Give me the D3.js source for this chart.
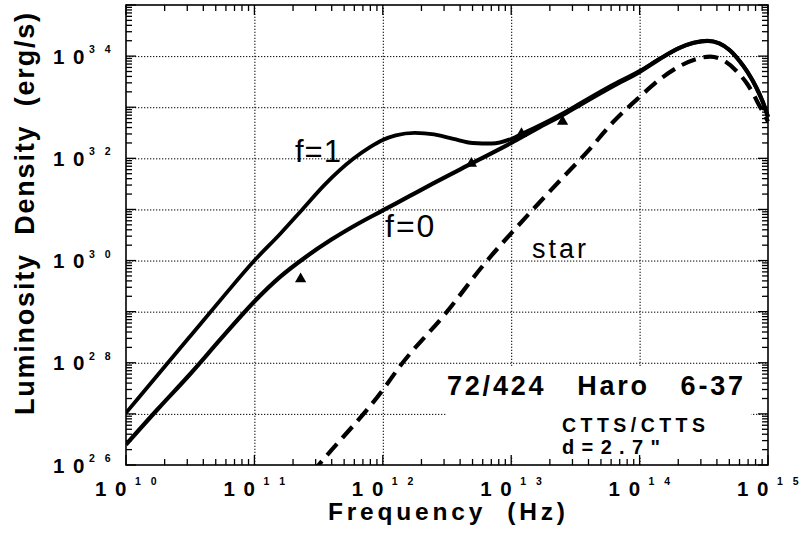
<!DOCTYPE html>
<html>
<head>
<meta charset="utf-8">
<script src="https://cdn.jsdelivr.net/npm/d3@7"></script>
<style>
  html, body { margin: 0; padding: 0; background: #fff; }
  svg { display: block; }
  text { font-family: "Liberation Sans", Arial, Helvetica, sans-serif; fill: #000; }
</style>
</head>
<body>
<svg id="chart" width="804" height="538"></svg>
<script>
// ---- data (log10 values) ----
const xTickExps = [10, 11, 12, 13, 14, 15];
const yTickExps = [26, 28, 30, 32, 34];
const gridXExps = [11, 12, 13, 14];
const gridYExps = [27, 28, 29, 30, 31, 32, 33, 34];

const f1LogNu = [10.0, 10.25, 10.5, 10.75, 11.0, 11.2, 11.37, 11.55, 11.77, 11.9, 12.0, 12.1, 12.25, 12.4, 12.55, 12.7, 12.85, 13.0, 13.1, 13.2, 13.43, 13.54, 13.8, 14.0, 14.16, 14.31, 14.42, 14.53, 14.62, 14.70, 14.78, 14.84, 14.91, 14.96, 15.0];
const f1LogL  = [27.02, 27.77, 28.52, 29.27, 30.0, 30.52, 30.99, 31.49, 31.99, 32.22, 32.36, 32.45, 32.5, 32.47, 32.38, 32.3, 32.29, 32.38, 32.5, 32.62, 32.92, 33.08, 33.45, 33.71, 33.95, 34.16, 34.26, 34.3, 34.25, 34.12, 33.9, 33.69, 33.38, 33.1, 32.81];

const f0LogNu = [10.0, 10.25, 10.5, 10.75, 11.0, 11.2, 11.4, 11.6, 11.8, 12.0, 12.2, 12.4, 12.7, 13.0, 13.2, 13.43, 13.54, 13.8, 14.0, 14.16, 14.31, 14.42, 14.53, 14.62, 14.70, 14.78, 14.84, 14.91, 14.96, 15.0];
const f0LogL  = [26.4, 27.1, 27.78, 28.5, 29.2, 29.68, 30.07, 30.41, 30.71, 30.98, 31.25, 31.52, 31.91, 32.3, 32.58, 32.89, 33.05, 33.42, 33.69, 33.95, 34.16, 34.26, 34.3, 34.25, 34.12, 33.9, 33.69, 33.38, 33.1, 32.81];

const starLogNu = [11.45, 11.5, 12.0, 12.13, 12.5, 12.78, 13.17, 13.4, 13.59, 13.79, 14.0, 14.16, 14.31, 14.45, 14.55, 14.65, 14.75, 14.84, 14.94, 15.0];
const starLogL  = [25.85, 26.0, 27.47, 27.92, 29.0, 29.9, 31.0, 31.62, 32.12, 32.7, 33.2, 33.55, 33.8, 33.95, 33.99, 33.92, 33.72, 33.45, 33.0, 32.72];

const triLogNu = [11.36, 12.69, 13.08, 13.40];
const triLogL  = [29.64, 31.9, 32.48, 32.72];

const curveLabels = ["f=1", "f=0", "star"];
const xTitle = "Frequency  (Hz)";
const yTitle = "Luminosity  Density  (erg/s)";
const noteTitle = "72/424   Haro   6-37";
const noteLines = ["CTTS/CTTS", "d=2.7\""];

// ---- layout ----
const L = 126, R = 768, T = 5, B = 465;
const svg = d3.select("#chart");
const x = d3.scaleLog().domain([1e10, 1e15]).range([L, R]);
const y = d3.scaleLog().domain([1e26, 1e35]).range([B, T]);
const p10 = e => Math.pow(10, e);

// grid (dotted)
const gridStyle = g => g.selectAll("line").attr("stroke", "#000").attr("stroke-width", 1).attr("stroke-dasharray", "1.3,1.7");
svg.append("g").attr("transform", `translate(0,${B})`)
  .call(d3.axisBottom(x).tickValues(gridXExps.map(p10)).tickSize(-(B - T)).tickFormat(""))
  .call(g => g.select(".domain").remove()).call(gridStyle);
svg.append("g").attr("transform", `translate(${L},0)`)
  .call(d3.axisLeft(y).tickValues(gridYExps.map(p10)).tickSize(-(R - L)).tickFormat(""))
  .call(g => g.select(".domain").remove()).call(gridStyle);

// clip
svg.append("defs").append("clipPath").attr("id", "clip")
  .append("rect").attr("x", L).attr("y", T - 2).attr("width", R - L + 2).attr("height", B - T + 2);

const line = d3.line().x(d => x(p10(d[0]))).y(d => y(p10(d[1]))).curve(d3.curveMonotoneX);
const plot = svg.append("g").attr("clip-path", "url(#clip)");

plot.append("path").datum(d3.zip(starLogNu, starLogL)).attr("d", line)
  .attr("fill", "none").attr("stroke", "#000").attr("stroke-width", 4.2)
  .attr("stroke-dasharray", "15,8").attr("stroke-linecap", "butt");
plot.append("path").datum(d3.zip(f0LogNu, f0LogL)).attr("d", line)
  .attr("fill", "none").attr("stroke", "#000").attr("stroke-width", 4.2).attr("stroke-linejoin", "round");
plot.append("path").datum(d3.zip(f1LogNu, f1LogL)).attr("d", line)
  .attr("fill", "none").attr("stroke", "#000").attr("stroke-width", 3.8).attr("stroke-linejoin", "round");

plot.selectAll(".tri").data(d3.zip(triLogNu, triLogL)).join("path")
  .attr("transform", d => `translate(${x(p10(d[0]))},${y(p10(d[1]))})`)
  .attr("d", d3.symbol(d3.symbolTriangle, 55)).attr("fill", "#000");

// white box behind annotation
svg.append("rect").attr("x", 446).attr("y", 367).attr("width", 305).attr("height", B - 367 - 8).attr("fill", "#fff");

// minor/major ticks on all sides (drawn inward)
const xMinor = [], yMinor = [];
for (let e = 10; e < 15; e++) for (let k = 2; k <= 9; k++) xMinor.push(k * p10(e));
for (let e = 26; e < 35; e++) for (let k = 2; k <= 9; k++) yMinor.push(k * p10(e));
const xMajor = xTickExps.map(p10), yMajor = d3.range(26, 36).map(p10);
const tg = svg.append("g");
[[xMinor, 6], [xMajor, 10]].forEach(([vals, len]) => {
  tg.append("g").selectAll("line").data(vals).join("line")
    .attr("stroke", "#000").attr("stroke-width", 1.3)
    .attr("x1", d => x(d)).attr("x2", d => x(d)).attr("y1", B).attr("y2", B - len);
  tg.append("g").selectAll("line").data(vals).join("line")
    .attr("stroke", "#000").attr("stroke-width", 1.3)
    .attr("x1", d => x(d)).attr("x2", d => x(d)).attr("y1", T).attr("y2", T + len);
});
[[yMinor, 6], [yMajor, 10]].forEach(([vals, len]) => {
  tg.append("g").selectAll("line").data(vals).join("line")
    .attr("stroke", "#000").attr("stroke-width", 1.3)
    .attr("y1", d => y(d)).attr("y2", d => y(d)).attr("x1", L).attr("x2", L + len);
  tg.append("g").selectAll("line").data(vals).join("line")
    .attr("stroke", "#000").attr("stroke-width", 1.3)
    .attr("y1", d => y(d)).attr("y2", d => y(d)).attr("x1", R).attr("x2", R - len);
});

// frame
svg.append("rect").attr("x", L).attr("y", T).attr("width", R - L).attr("height", B - T)
  .attr("fill", "none").attr("stroke", "#000").attr("stroke-width", 1.6);

// tick labels
const xl = svg.append("g");
xTickExps.forEach(e => {
  const px = x(p10(e));
  xl.append("text").attr("x", px + 2).attr("y", 496).attr("text-anchor", "end")
    .attr("font-size", 20.5).attr("font-weight", "bold").attr("letter-spacing", 1.5).text("1 0");
  xl.append("text").attr("x", px + 9).attr("y", 485)
    .attr("font-size", 10.5).attr("font-weight", "bold").attr("letter-spacing", 3.5).text(String(e).split("").join(" "));
});
const yl = svg.append("g");
yTickExps.forEach(e => {
  const py = y(p10(e));
  yl.append("text").attr("x", 86).attr("y", py + 7.5).attr("text-anchor", "end")
    .attr("font-size", 20.5).attr("font-weight", "bold").attr("letter-spacing", 1.5).text("1 0");
  yl.append("text").attr("x", 89).attr("y", py - 3)
    .attr("font-size", 10.5).attr("font-weight", "bold").attr("letter-spacing", 3.5).text(String(e).split("").join(" "));
});

// axis titles
svg.append("text").attr("x", 328).attr("y", 520).attr("font-size", 24.5).attr("font-weight", "bold")
  .attr("textLength", 237).attr("lengthAdjust", "spacing").style("white-space", "pre").text(xTitle);
svg.append("text").attr("transform", "translate(34,415) rotate(-90)").attr("font-size", 27).attr("font-weight", "bold")
  .attr("textLength", 402).attr("lengthAdjust", "spacing").style("white-space", "pre").text(yTitle);

// curve labels
svg.append("text").attr("x", 295).attr("y", 162).attr("font-size", 31).attr("letter-spacing", 1).text(curveLabels[0]);
svg.append("text").attr("x", 385).attr("y", 237).attr("font-size", 32).attr("letter-spacing", 2).text(curveLabels[1]);
svg.append("text").attr("x", 532).attr("y", 258).attr("font-size", 27).attr("letter-spacing", 3).text(curveLabels[2]);

// annotation
svg.append("text").attr("x", 447).attr("y", 395).attr("font-size", 27).attr("font-weight", "bold")
  .attr("textLength", 296).attr("lengthAdjust", "spacing").style("white-space", "pre").text(noteTitle);
svg.append("text").attr("x", 562).attr("y", 432).attr("font-size", 19.5).attr("font-weight", "bold")
  .attr("textLength", 143).attr("lengthAdjust", "spacing").text(noteLines[0]);
svg.append("text").attr("x", 562).attr("y", 454).attr("font-size", 20).attr("font-weight", "bold")
  .attr("textLength", 98).attr("lengthAdjust", "spacing").text(noteLines[1]);
</script>
</body>
</html>
